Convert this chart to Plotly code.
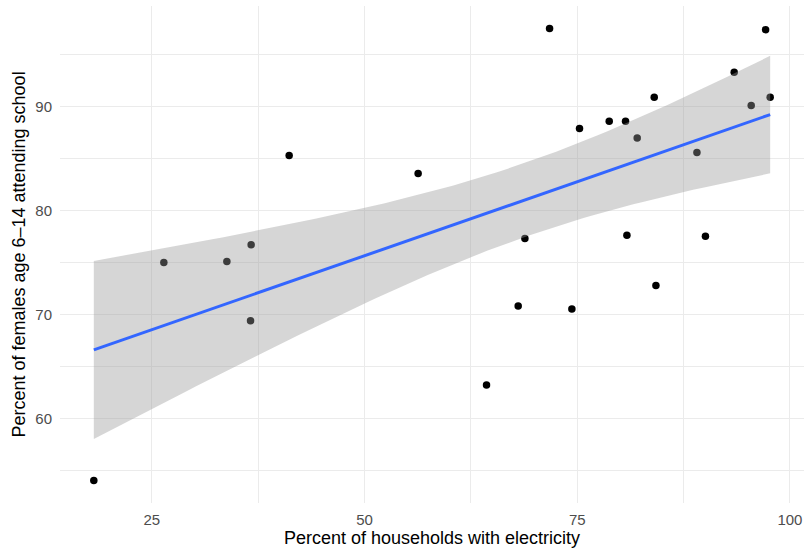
import numpy as np
import plotly.graph_objects as go

# Percent of households with electricity
electricity = [18.18, 26.41, 33.82, 36.67, 36.60, 41.14, 56.30, 64.34, 68.06, 68.85,
               71.75, 74.37, 75.27, 78.76, 80.68, 80.84, 82.05, 84.05, 84.25, 89.07,
               90.07, 93.45, 95.45, 97.14, 97.68]
# Percent of females aged 6-14 attending school
school = [54.08, 75.01, 75.10, 76.71, 69.40, 85.27, 83.54, 63.23, 70.82, 77.31,
          97.46, 70.53, 87.86, 88.56, 88.56, 77.63, 86.96, 90.86, 72.80, 85.56,
          77.53, 93.26, 90.07, 97.36, 90.86]

x_ticks = [25, 50, 75, 100]
y_ticks = [60, 70, 80, 90]

# Linear fit with 95% confidence band
x = np.array(electricity)
y = np.array(school)
n = len(x)
b1, b0 = np.polyfit(x, y, 1)
resid = y - (b0 + b1 * x)
s = np.sqrt(np.sum(resid ** 2) / (n - 2))
t_crit = 2.068658  # t(0.975, df=23)
xg = np.linspace(x.min(), x.max(), 80)
yg = b0 + b1 * xg
se = s * np.sqrt(1 / n + (xg - x.mean()) ** 2 / np.sum((x - x.mean()) ** 2))
lo = yg - t_crit * se
hi = yg + t_crit * se

fig = go.Figure()
fig.add_trace(go.Scatter(x=electricity, y=school, mode="markers",
                         marker=dict(color="black", size=7.5, line=dict(width=0)),
                         showlegend=False, hoverinfo="x+y"))
fig.add_trace(go.Scatter(x=np.concatenate([xg, xg[::-1]]),
                         y=np.concatenate([hi, lo[::-1]]),
                         fill="toself", fillcolor="rgba(153,153,153,0.4)",
                         line=dict(width=0), mode="lines",
                         showlegend=False, hoverinfo="skip"))
fig.add_trace(go.Scatter(x=xg, y=yg, mode="lines",
                         line=dict(color="#3366FF", width=3),
                         showlegend=False))

xr = [x.min() - 0.05 * (x.max() - x.min()), x.max() + 0.05 * (x.max() - x.min())]
yr = [y.min() - 0.05 * (y.max() - y.min()), y.max() + 0.05 * (y.max() - y.min())]

font_family = "Liberation Sans, Arial, sans-serif"
fig.update_layout(
    width=806, height=552,
    margin=dict(l=60, r=2, t=6, b=49),
    paper_bgcolor="white", plot_bgcolor="white",
    font=dict(family=font_family, color="black"),
    xaxis=dict(
        range=xr, tickvals=x_ticks, ticktext=[str(v) for v in x_ticks],
        showgrid=True, gridcolor="#EBEBEB", gridwidth=1.1,
        minor=dict(dtick=12.5, tick0=0, showgrid=True, gridcolor="#EBEBEB", gridwidth=0.6),
        zeroline=False, showline=False,
        ticks="outside", ticklen=3, tickcolor="rgba(0,0,0,0)",
        tickfont=dict(size=15, color="#4D4D4D", family=font_family),
        title=dict(text="Percent of households with electricity",
                   font=dict(size=18, color="black", family=font_family), standoff=3),
    ),
    yaxis=dict(
        range=yr, tickvals=y_ticks, ticktext=[str(v) for v in y_ticks],
        showgrid=True, gridcolor="#EBEBEB", gridwidth=1.1,
        minor=dict(dtick=5, tick0=0, showgrid=True, gridcolor="#EBEBEB", gridwidth=0.6),
        zeroline=False, showline=False,
        ticks="outside", ticklen=4, tickcolor="rgba(0,0,0,0)",
        tickfont=dict(size=15, color="#4D4D4D", family=font_family),
        title=dict(text="Percent of females age 6\u201314 attending school",
                   font=dict(size=18, color="black", family=font_family), standoff=5),
    ),
)

fig.write_html("out.html")
